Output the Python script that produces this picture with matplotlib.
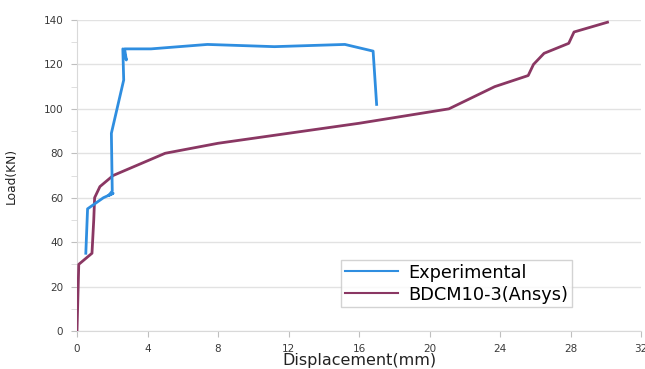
import matplotlib
matplotlib.use("Agg")
import matplotlib.pyplot as plt
from matplotlib.ticker import MultipleLocator

plt.rcParams['font.family'] = ['DejaVu Sans']

# Load-displacement curves
exp_disp = [0.5, 0.55, 0.6, 1.5, 2.05, 1.8, 2.0, 1.95, 2.65, 2.6, 2.8, 2.7, 4.2, 7.4, 11.2, 15.2, 16.8, 17.0]
exp_load = [35, 45, 55, 60, 62, 61, 63, 89, 113, 127, 122, 127, 127, 129, 128, 129, 126, 102]

fem_disp = [0.0, 0.1, 0.85, 0.95, 1.0, 1.3, 2.05, 5.0, 8.0, 12.0, 16.0, 21.1, 23.7, 25.6, 25.9, 26.5, 27.9, 28.2, 30.1]
fem_load = [0, 30, 35, 50, 60, 65, 70, 80, 84.5, 89, 93.5, 100, 110, 115, 120, 125, 129.5, 134.6, 139]

series_names = ["Experimental", "BDCM10-3(Ansys)"]
x_ticks = [0, 4, 8, 12, 16, 20, 24, 28, 32]
y_ticks = [0, 20, 40, 60, 80, 100, 120, 140]

fig = plt.figure(figsize=(6.45, 3.69), dpi=100)
ax = fig.add_axes([77/645, 38/369, 564/645, 311/369])

ax.plot(fem_disp, fem_load, color='#8a3763', lw=2.0, label=series_names[1], zorder=3)
ax.plot(exp_disp, exp_load, color='#2f8ee0', lw=2.0, label=series_names[0], zorder=4)

ax.set_xlim(0, 32)
ax.set_ylim(0, 140)
ax.set_xticks(x_ticks)
ax.set_yticks(y_ticks)
ax.yaxis.set_minor_locator(MultipleLocator(10))
ax.grid(axis='y', color='#e2e2e2', lw=1.0)
ax.set_axisbelow(True)

for s in ['top', 'right']:
    ax.spines[s].set_visible(False)
ax.spines['left'].set_color('#d9d9d9')
ax.spines['bottom'].set_color('#d9d9d9')
ax.tick_params(axis='both', colors='#bfbfbf', labelcolor='#3a3a3a', labelsize=7.5, length=4)
ax.tick_params(axis='x', pad=5)
ax.tick_params(axis='y', pad=6)
ax.tick_params(axis='y', which='minor', colors='#d9d9d9', length=4)

ax.set_xlabel("Displacement(mm)", fontsize=11.5, color='#222222')
ax.xaxis.set_label_coords(0.5, -(360 - 331) / 311, transform=ax.transAxes)
ax.xaxis.label.set_va('center')
ax.set_ylabel("Load(KN)", fontsize=8.8, color='#222222')
ax.yaxis.set_label_coords(-(77 - 18) / 564, 0.5)

handles, labels = ax.get_legend_handles_labels()
leg = ax.legend(handles[::-1], labels[::-1], loc='upper left', bbox_to_anchor=(0.468, 0.228),
                fontsize=12.8, frameon=True, fancybox=False, edgecolor='#c8c8c8',
                handlelength=3.0, borderpad=0.2, labelspacing=0.22, handletextpad=0.6,
                borderaxespad=0.0)
leg.get_frame().set_linewidth(1.0)
for line in leg.get_lines():
    line.set_linewidth(1.5)

fig.savefig("out.png", dpi=100)
